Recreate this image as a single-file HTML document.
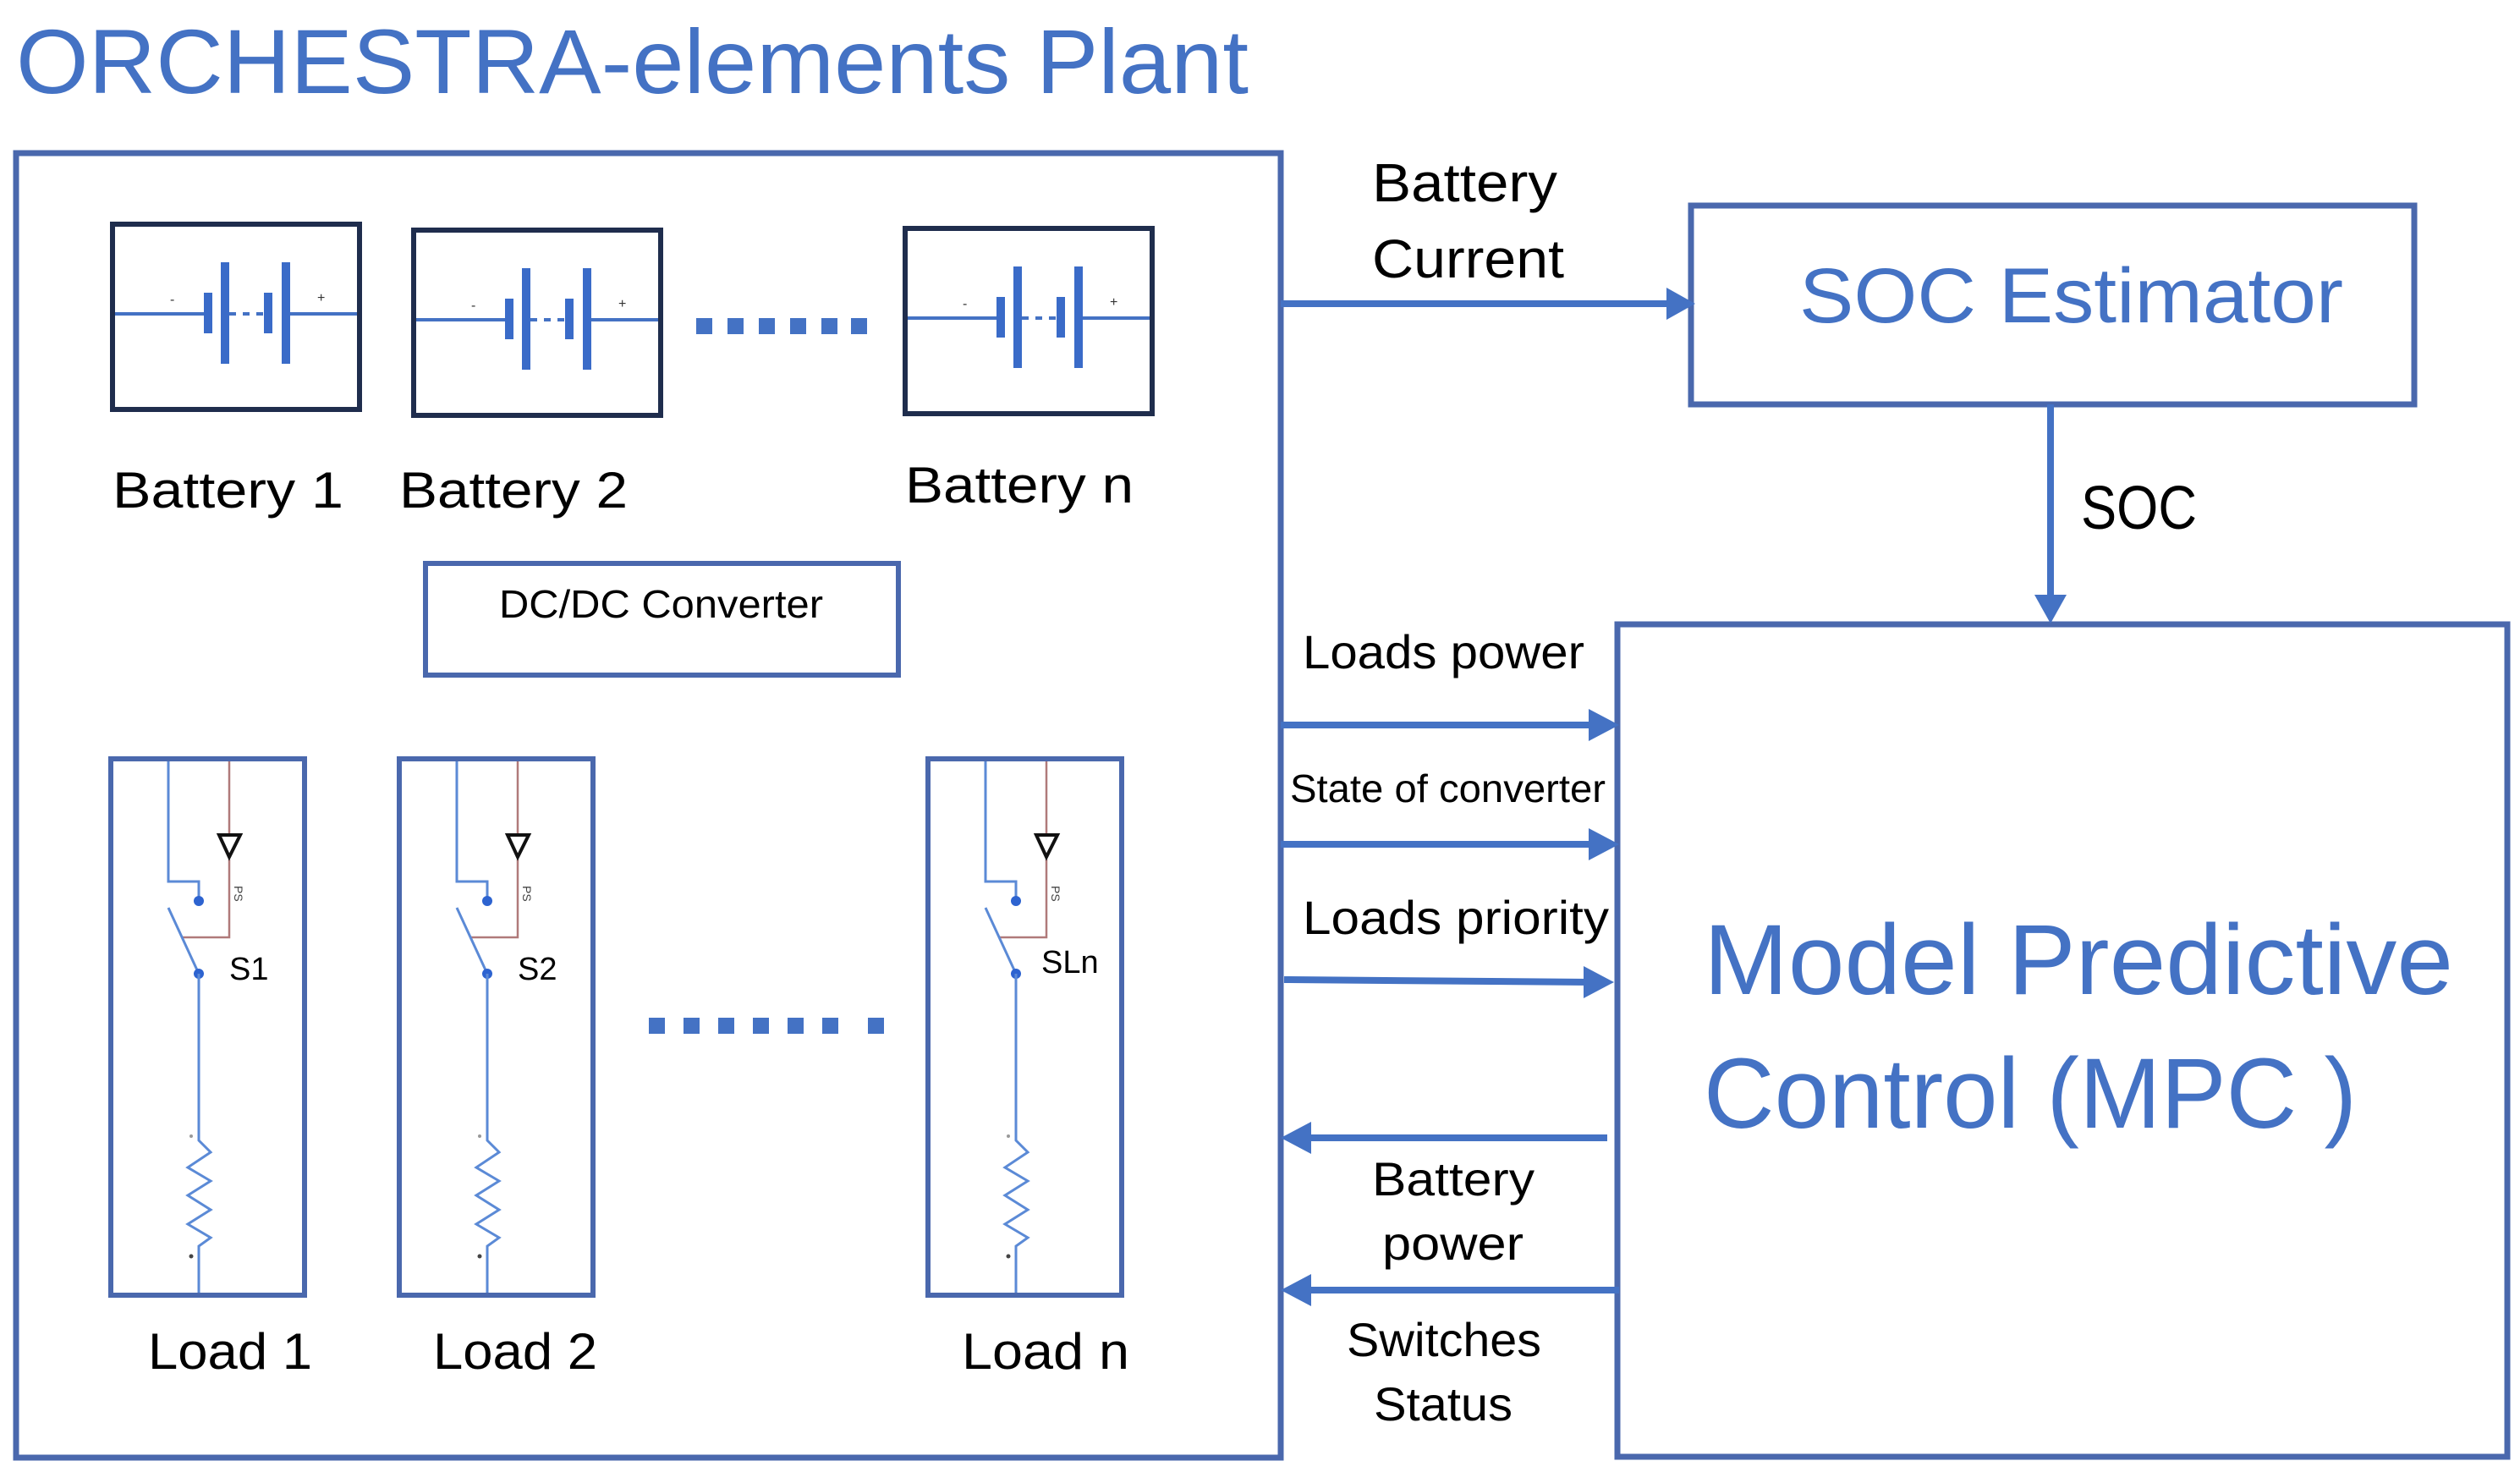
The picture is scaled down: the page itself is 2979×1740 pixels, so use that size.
<!DOCTYPE html>
<html><head><meta charset="utf-8"><style>
html,body{margin:0;padding:0;background:#fff}
svg{display:block}
text{font-family:"Liberation Sans",sans-serif}
</style></head><body>
<svg width="2979" height="1740" viewBox="0 0 2979 1740" xmlns="http://www.w3.org/2000/svg">
<defs>
<g id="bat">
  <rect x="0" y="0" width="292" height="219" fill="#fff" stroke="#1f2d4d" stroke-width="6"/>
  <line x1="3" y1="106" x2="113" y2="106" stroke="#4472c4" stroke-width="4"/>
  <line x1="210" y1="106" x2="289" y2="106" stroke="#4472c4" stroke-width="4"/>
  <line x1="138" y1="106" x2="184" y2="106" stroke="#4472c4" stroke-width="4" stroke-dasharray="8,8"/>
  <rect x="108" y="81" width="10" height="48" fill="#3a6bc8"/>
  <rect x="128" y="45" width="10" height="120" fill="#3a6bc8"/>
  <rect x="179" y="81" width="10" height="48" fill="#3a6bc8"/>
  <rect x="200" y="45" width="10" height="120" fill="#3a6bc8"/>
  <text x="68" y="94" font-size="16" fill="#333">-</text>
  <text x="242" y="92" font-size="16" fill="#333">+</text>
</g>
<g id="load">
  <rect x="0" y="0" width="229" height="634" fill="#fff" stroke="#4a68ad" stroke-width="6"/>
  <polyline points="68,3 68,145 104,145 104,168" fill="none" stroke="#5b8ad6" stroke-width="3"/>
  <polyline points="140,3 140,89" fill="none" stroke="#b07a7a" stroke-width="2.5"/>
  <polyline points="140,119 140,211 85,211" fill="none" stroke="#b07a7a" stroke-width="2.5"/>
  <polygon points="128,90 153,90 140,116" fill="none" stroke="#111" stroke-width="4"/>
  <text x="0" y="0" font-size="14" fill="#444" transform="translate(146,150) rotate(90)">PS</text>
  <circle cx="104" cy="168" r="6" fill="#2d63d0"/>
  <line x1="68" y1="176" x2="104" y2="254" stroke="#5b8ad6" stroke-width="3"/>
  <circle cx="104" cy="254" r="6" fill="#2d63d0"/>
  <polyline points="104,254 104,451 118,465 91,483 118,499 91,516 118,533 91,550 118,566 104,576 104,631" fill="none" stroke="#5b8ad6" stroke-width="3"/>
  <circle cx="95" cy="446" r="2" fill="#999"/>
  <circle cx="95" cy="588" r="2.5" fill="#444"/>
</g>
</defs>

<text x="19" y="110" font-size="108" fill="#4472c4" textLength="1457" lengthAdjust="spacingAndGlyphs">ORCHESTRA-elements Plant</text>

<rect x="19" y="181" width="1495" height="1542" fill="none" stroke="#4a68ad" stroke-width="7"/>

<use href="#bat" x="133" y="265"/>
<use href="#bat" x="489" y="272"/>
<use href="#bat" x="1070" y="270"/>

<g fill="#4472c4">
<rect x="823" y="376" width="19" height="19"/><rect x="860" y="376" width="19" height="19"/><rect x="897" y="376" width="19" height="19"/><rect x="934" y="376" width="19" height="19"/><rect x="971" y="376" width="19" height="19"/><rect x="1006" y="376" width="19" height="19"/>
</g>

<text x="133" y="600" font-size="60" fill="#000" textLength="273" lengthAdjust="spacingAndGlyphs">Battery 1</text>
<text x="472" y="600" font-size="60" fill="#000" textLength="270" lengthAdjust="spacingAndGlyphs">Battery 2</text>
<text x="1070" y="594" font-size="60" fill="#000" textLength="270" lengthAdjust="spacingAndGlyphs">Battery n</text>

<rect x="503" y="666" width="559" height="132" fill="none" stroke="#4a68ad" stroke-width="6"/>
<text x="590" y="730" font-size="46" fill="#000" textLength="383" lengthAdjust="spacingAndGlyphs">DC/DC Converter</text>

<use href="#load" x="131" y="897"/>
<use href="#load" x="472" y="897"/>
<use href="#load" x="1097" y="897"/>
<text x="271" y="1158" font-size="38" fill="#000">S1</text>
<text x="612" y="1158" font-size="38" fill="#000">S2</text>
<text x="1231" y="1150" font-size="38" fill="#000">SLn</text>

<g fill="#4472c4">
<rect x="767" y="1203" width="19" height="19"/><rect x="808" y="1203" width="19" height="19"/><rect x="849" y="1203" width="19" height="19"/><rect x="890" y="1203" width="19" height="19"/><rect x="931" y="1203" width="19" height="19"/><rect x="972" y="1203" width="19" height="19"/><rect x="1026" y="1203" width="19" height="19"/>
</g>

<text x="175" y="1618" font-size="60" fill="#000" textLength="194" lengthAdjust="spacingAndGlyphs">Load 1</text>
<text x="512" y="1618" font-size="60" fill="#000" textLength="194" lengthAdjust="spacingAndGlyphs">Load 2</text>
<text x="1137" y="1618" font-size="60" fill="#000" textLength="198" lengthAdjust="spacingAndGlyphs">Load n</text>

<!-- SOC estimator -->
<rect x="1999" y="243" width="855" height="235" fill="none" stroke="#4a68ad" stroke-width="7"/>
<text x="2127" y="381" font-size="92" fill="#4472c4" textLength="643" lengthAdjust="spacingAndGlyphs">SOC Estimator</text>

<!-- MPC -->
<rect x="1912" y="738" width="1052" height="984" fill="none" stroke="#4a68ad" stroke-width="7"/>
<text x="2014" y="1175" font-size="118" fill="#4472c4" textLength="886" lengthAdjust="spacingAndGlyphs">Model Predictive</text>
<text x="2014" y="1333" font-size="118" fill="#4472c4" textLength="772" lengthAdjust="spacingAndGlyphs">Control (MPC )</text>

<!-- arrows -->
<g stroke="#4472c4" stroke-width="8" fill="none">
<line x1="1514" y1="359" x2="1972" y2="359"/>
<line x1="2424" y1="478" x2="2424" y2="707"/>
<line x1="1514" y1="857" x2="1880" y2="857"/>
<line x1="1514" y1="998" x2="1880" y2="998"/>
<line x1="1518" y1="1158" x2="1880" y2="1161"/>
<line x1="1900" y1="1345" x2="1545" y2="1345"/>
<line x1="1914" y1="1525" x2="1545" y2="1525"/>
</g>
<g fill="#4472c4">
<polygon points="2004,359 1970,340 1970,378"/>
<polygon points="2424,737 2405,703 2443,703"/>
<polygon points="1914,857 1878,838 1878,876"/>
<polygon points="1914,998 1878,979 1878,1017"/>
<polygon points="1908,1161 1872,1142 1872,1180"/>
<polygon points="1514,1345 1550,1326 1550,1364"/>
<polygon points="1514,1525 1550,1506 1550,1544"/>
</g>

<text x="1622" y="238" font-size="64" fill="#000" textLength="219" lengthAdjust="spacingAndGlyphs">Battery</text>
<text x="1622" y="328" font-size="64" fill="#000" textLength="227" lengthAdjust="spacingAndGlyphs">Current</text>
<text x="2460" y="625" font-size="72" fill="#000" textLength="137" lengthAdjust="spacingAndGlyphs">SOC</text>
<text x="1540" y="790" font-size="56" fill="#000" textLength="333" lengthAdjust="spacingAndGlyphs">Loads power</text>
<text x="1525" y="948" font-size="46" fill="#000" textLength="373" lengthAdjust="spacingAndGlyphs">State of converter</text>
<text x="1540" y="1104" font-size="56" fill="#000" textLength="362" lengthAdjust="spacingAndGlyphs">Loads priority</text>
<text x="1622" y="1413" font-size="56" fill="#000" textLength="192" lengthAdjust="spacingAndGlyphs">Battery</text>
<text x="1634" y="1489" font-size="56" fill="#000" textLength="167" lengthAdjust="spacingAndGlyphs">power</text>
<text x="1592" y="1603" font-size="56" fill="#000" textLength="230" lengthAdjust="spacingAndGlyphs">Switches</text>
<text x="1624" y="1679" font-size="56" fill="#000" textLength="164" lengthAdjust="spacingAndGlyphs">Status</text>
</svg>
</body></html>
